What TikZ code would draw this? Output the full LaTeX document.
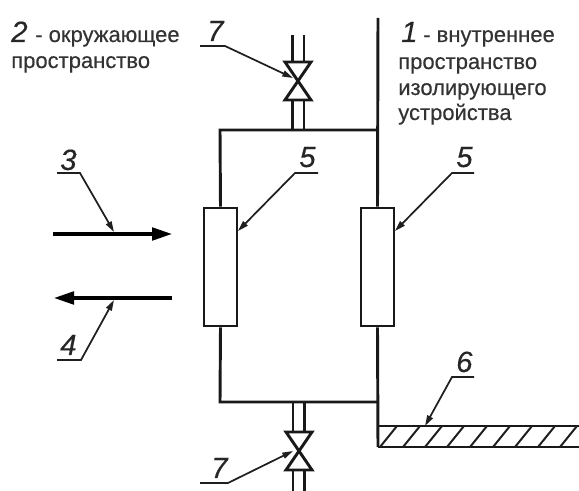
\documentclass[tikz,border=0pt]{standalone}
\usepackage{fontspec}
\setmainfont{Liberation Sans}
\newfontfamily\labfont[FakeBold=0.35]{Liberation Sans}
\newfontfamily\numfont[FakeBold=0.3,ItalicFont={Liberation Sans Italic},ItalicFeatures={FakeBold=0.3}]{Liberation Sans}
\usetikzlibrary{arrows.meta}
\tikzset{
  main/.style={draw=black!90,line width=2.2pt},
  hatchline/.style={draw=black!88,line width=1.5pt},
  leader/.style={draw=black!88,line width=1.3pt},
  leadarrow/.style={leader,-{Triangle[length=8pt,width=4.6pt]}},
  flow/.style={draw=black,line width=2.4pt,-{Triangle[length=15pt,width=9.5pt]}},
  filterbox/.style={draw=black!90,line width=2.2pt,fill=white,minimum width=33*0.75pt,minimum height=118*0.75pt,inner sep=0pt},
  num/.style={anchor=base west,inner sep=0pt,font=\fontsize{22}{22}\numfont\itshape,text=black!85},
  lab/.style={anchor=base west,inner sep=0pt,font=\fontsize{16.5}{16.5}\labfont,text=black!80},
}
\begin{document}
\begin{tikzpicture}[x=0.75pt,y=-0.75pt]
\useasboundingbox (0,0) rectangle (579,491);
% boxes
\node[filterbox] (boxL) at (220.5,267) {};
\node[filterbox] (boxR) at (377.5,267) {};
% structural points
\coordinate (wallTop) at (378,18);
\coordinate (wallBot) at (378,447);
\coordinate (topL) at (220,130);
\coordinate (topR) at (378,130);
\coordinate (botL) at (220,402);
\coordinate (botR) at (378,402);
\coordinate (floorTop) at (378,426);
\coordinate (floorTopE) at (579,426);
\coordinate (floorBotE) at (579,447);
% wall and frame
\draw[main] (wallTop) -- (boxR.north);
\draw[main] (boxR.south) -- (wallBot);
\draw[main] (boxL.north) -- (topL) -- (topR);
\draw[main] (boxL.south) -- (botL) -- (botR);
% floor
\draw[main] (floorTop) -- (floorTopE);
\draw[main] (wallBot) -- (floorBotE);
\foreach \x in {380,403,425,447,470,493,515,538,560}
  \draw[hatchline] (\x,447) -- (\x+17,426);
% top valve
\draw[main] (285,62) -- (311,62) -- (285,100) -- (311,100) -- cycle;
\draw[main] (292.5,35) -- (292.5,62) (304,35) -- (304,62);
\draw[main] (292.5,100) -- (292.5,130) (304,100) -- (304,130);
% bottom valve
\draw[main] (286,432) -- (312,432) -- (286,470) -- (312,470) -- cycle;
\draw[main] (293,402) -- (293,432) (304.5,402) -- (304.5,432);
\draw[main] (293,470) -- (293,491) (304.5,470) -- (304.5,491);
% flows
\coordinate (f3a) at (53,234);
\coordinate (f3b) at (172,234);
\coordinate (f4a) at (172,298);
\coordinate (f4b) at (54,298);
\draw[flow] (f3a) -- (f3b);
\draw[flow] (f4a) -- (f4b);
% labels
\node[num] (n2) at (11,42) {2};
\node[lab] (t2a) at (35,42) {- окружающее};
\node[lab] (t2b) at (11,68) {пространство};
\node[num] (n1) at (401,42) {1};
\node[lab] (t1a) at (423,42) {- внутреннее};
\node[lab] (t1b) at (398,69) {пространство};
\node[lab] (t1c) at (398,95) {изолирующего};
\node[lab] (t1d) at (398,120) {устройства};
\node[num] (n7a) at (207,41) {7};
\node[num] (n3) at (60,170) {3};
\node[num] (n5a) at (299,167) {5};
\node[num] (n5b) at (456,167) {5};
\node[num] (n4) at (60,355) {4};
\node[num] (n6) at (456,372) {6};
\node[num] (n7b) at (211,478) {7};
% leaders
\draw[leadarrow] (200,46) -- (225,46) -- (293,78);
\draw[leadarrow] (57,173) -- (80,173) -- (114,232);
\draw[leadarrow] (57,360) -- (81,360) -- (114,300);
\draw[leadarrow] (318,173) -- (295,173) -- (238,231);
\draw[leadarrow] (474,173) -- (452,173) -- (395,231);
\draw[leadarrow] (474,377) -- (452,377) -- (425,426);
\draw[leadarrow] (200,483) -- (228,483) -- (293,451);
\end{tikzpicture}
\end{document}
